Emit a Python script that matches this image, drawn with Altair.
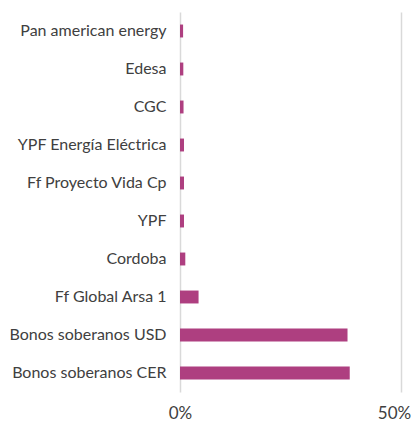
import altair as alt
import pandas as pd

categories = ["Pan american energy", "Edesa", "CGC", "YPF Energía Eléctrica",
              "Ff Proyecto Vida Cp", "YPF", "Cordoba", "Ff Global Arsa 1",
              "Bonos soberanos USD", "Bonos soberanos CER"]
values = [0.007, 0.0075, 0.008, 0.009, 0.009, 0.009, 0.012, 0.042, 0.379, 0.384]
x_ticks = [0, 0.5]

df = pd.DataFrame({"cat": categories, "val": values})

chart = alt.Chart(df).mark_bar(color="#AE3F80").encode(
    y=alt.Y("cat:N", sort=categories, title=None,
            scale=alt.Scale(paddingInner=0.66, paddingOuter=0.33),
            axis=alt.Axis(domain=False, ticks=False, labelPadding=14,
                          labelFont="Lato", labelFontSize=16, labelColor="#404040",
                          grid=False)),
    x=alt.X("val:Q", title=None,
            scale=alt.Scale(domain=[0, 0.5], nice=False),
            axis=alt.Axis(values=x_ticks, format=".0%", domain=False, ticks=False,
                          labelFlush=False, labelOverlap=False,
                          labelOffset={"condition": {"test": "datum.value == 0.5", "value": -7}, "value": 0},
                          labelPadding=13, labelFont="Lato", labelFontSize=17,
                          labelColor="#404040", gridColor="#d9d9d9", gridWidth=1.5)),
).properties(
    width=221, height=380,
    autosize=alt.AutoSizeParams(type="none"),
    padding={"left": 172, "top": 4, "right": 10, "bottom": 30},
).configure_view(stroke=None)

chart.save("out.html", embed_options={"renderer": "svg", "actions": False})
